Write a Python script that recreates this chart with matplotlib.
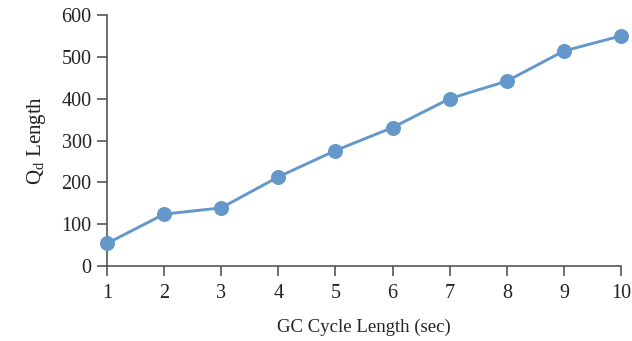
import matplotlib
matplotlib.use("Agg")
import matplotlib.pyplot as plt

# GC cycle length (seconds) vs. Qd queue length
cycle_length = [1, 2, 3, 4, 5, 6, 7, 8, 9, 10]
qd_length = [54, 124, 139, 213, 276, 331, 400, 442, 514, 550]
y_ticks = [0, 100, 200, 300, 400, 500, 600]

plt.rcParams["font.family"] = ["Liberation Serif", "DejaVu Serif"]
plt.rcParams["mathtext.fontset"] = "custom"
plt.rcParams["mathtext.rm"] = "Liberation Serif"
plt.rcParams["mathtext.it"] = "Liberation Serif:italic"

fig = plt.figure(figsize=(6.32, 3.41), dpi=100)
ax = fig.add_axes([0.1693, 0.2199, 0.8133, 0.7361])

line_color = "#6498CB"
ax.plot(cycle_length, qd_length, color=line_color, lw=2.1,
        marker="o", markersize=10.8, markeredgewidth=0, clip_on=False, zorder=3)

ax.set_xlim(1, 10)
ax.set_ylim(0, 600)
ax.set_xticks(cycle_length)
ax.set_yticks(y_ticks)

axis_color = "#555555"
for side in ("top", "right"):
    ax.spines[side].set_visible(False)
for side in ("left", "bottom"):
    ax.spines[side].set_color(axis_color)
    ax.spines[side].set_linewidth(1.2)

ax.tick_params(axis="both", direction="out", length=7, width=1.2,
               color=axis_color, labelsize=14.5, labelcolor="#222222")
ax.tick_params(axis="x", pad=6)
ax.tick_params(axis="y", pad=4)

ax.set_xlabel("GC Cycle Length (sec)", fontsize=13.5, color="#222222", labelpad=11)
ax.set_ylabel(r"Q$_\mathrm{d}$ Length", fontsize=15, color="#222222", labelpad=10)

fig.savefig("out.png", dpi=100)
